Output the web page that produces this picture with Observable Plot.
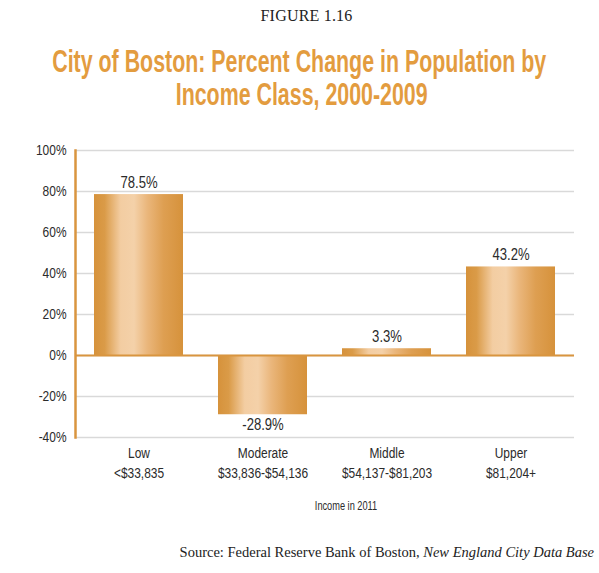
<!DOCTYPE html>
<html>
<head>
<meta charset="utf-8">
<script src="https://cdn.jsdelivr.net/npm/d3@7"></script>
<script src="https://cdn.jsdelivr.net/npm/@observablehq/plot@0.6"></script>
<style>
  html, body { margin: 0; padding: 0; background: #fff; }
  #wrap { position: relative; width: 599px; height: 573px; overflow: hidden; }
  .fig { position: absolute; top: 7px; left: 7px; width: 599px; text-align: center;
         font-family: "Liberation Serif", serif; font-size: 16px; letter-spacing: 0.2px; color: #222; }
  .tl { position: absolute; left: -500px; width: 1599px; text-align: center; white-space: nowrap;
        font-family: "Liberation Sans", Arial, sans-serif; font-weight: bold;
        font-size: 31px; line-height: 34px; color: #E39C3F; }
  .tl span { display: inline-block; transform-origin: 50% 50%; }
  #t1 { top: 45px; }
  #t2 { top: 78px; left: -498px; }
  #chart { position: absolute; top: 130px; left: 0; }
  .src { position: absolute; top: 544px; right: 5px; font-family: "Liberation Serif", serif;
         font-size: 14.5px; color: #222; white-space: nowrap; }
</style>
</head>
<body>
<div id="wrap">
  <div class="fig">FIGURE 1.16</div>
  <div class="tl" id="t1"><span>City of Boston: Percent Change in Population by</span></div>
  <div class="tl" id="t2"><span>Income Class, 2000-2009</span></div>
  <div id="chart"></div>
  <div class="src">Source: Federal Reserve Bank of Boston, <i>New England City Data Base</i></div>
</div>
<script>
const categories = ["Low\n<$33,835", "Moderate\n$33,836-$54,136", "Middle\n$54,137-$81,203", "Upper\n$81,204+"];
const values = [78.5, -28.9, 3.3, 43.2];
const labels = ["78.5%", "-28.9%", "3.3%", "43.2%"];
const yTicks = [-40, -20, 0, 20, 40, 60, 80, 100];
const xTitle = "Income in 2011";

const data = categories.map((c, i) => ({cat: c, value: values[i], label: labels[i]}));
const orange = "#D9953F";
const font = "'Liberation Sans', Arial, sans-serif";

// condensed title: scale so the first line matches the reference width
const s1 = document.querySelector("#t1 span");
const w1 = s1.getBoundingClientRect().width;
const ts = 494 / w1;
document.querySelectorAll(".tl span").forEach(s => s.style.transform = `scaleX(${ts})`);

const svg = Plot.plot({
  width: 599,
  height: 390,
  marginTop: 20,
  marginBottom: 83,
  marginLeft: 75,
  marginRight: 25,
  style: {fontFamily: font, fontSize: "15px", color: "#2b2b2b", background: "#fff"},
  x: {domain: categories, paddingInner: 0.28, paddingOuter: 0.14, label: null},
  y: {domain: [-40, 100], label: null},
  marks: [
    Plot.gridY(yTicks, {stroke: "#d9d9d9", strokeOpacity: 1, strokeWidth: 1.5}),
    Plot.barY(data, {x: "cat", y: "value", fill: "url(#barGrad)"}),
    Plot.ruleY([0], {stroke: orange, strokeWidth: 2}),
    Plot.frame({anchor: "left", stroke: orange, strokeWidth: 2.5}),
    Plot.axisY(yTicks, {tickSize: 0, tickPadding: 9, tickFormat: d => d + "%", fontSize: 15.5, label: null}),
    Plot.axisX({tickSize: 0, tickPadding: 7, fontSize: 15.5, lineHeight: 1.27, label: null}),
    Plot.text([xTitle], {frameAnchor: "bottom", dy: 72, dx: 21, fontSize: 12, fill: "#2b2b2b"}),
    Plot.text(data.filter(d => d.value >= 0), {x: "cat", y: "value", text: "label", lineAnchor: "bottom", dy: -7, fontSize: 17, fill: "#2b2b2b", ariaLabel: "value-label"}),
    Plot.text(data.filter(d => d.value < 0), {x: "cat", y: "value", text: "label", lineAnchor: "top", dy: 3, fontSize: 17, fill: "#2b2b2b", ariaLabel: "value-label"})
  ]
});

const defs = d3.select(svg).insert("defs", ":first-child");
const g = defs.append("linearGradient").attr("id", "barGrad").attr("x1", "0").attr("x2", "1").attr("y1", "0").attr("y2", "0");
[[0, "#D6923B"], [0.12, "#DA9B48"], [0.3, "#F3CDA2"], [0.45, "#F4D1A9"], [0.6, "#EAB67B"], [0.78, "#DE9F52"], [1, "#D6923B"]]
  .forEach(([o, c]) => g.append("stop").attr("offset", o).attr("stop-color", c));

// condense all chart text horizontally around its own x anchor
d3.select(svg).selectAll("text").each(function() {
  const t = d3.select(this);
  const isValue = this.closest("g[aria-label='value-label']") !== null;
  const sx = isValue ? 0.71 : 0.77;
  const xv = parseFloat(t.attr("x"));
  const x = isFinite(xv) ? xv : 0;
  const tr = t.attr("transform") || "";
  t.attr("transform", `${tr} translate(${x},0) scale(${sx},1) translate(${-x},0)`);
});

document.getElementById("chart").appendChild(svg);
</script>
</body>
</html>
